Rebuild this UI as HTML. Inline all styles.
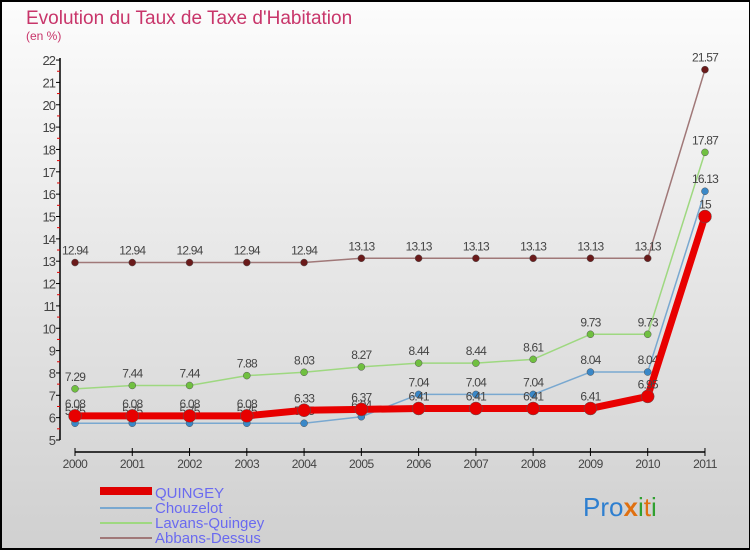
<!DOCTYPE html>
<html><head><meta charset="utf-8"><style>
body{margin:0;}
#c{position:relative;width:750px;height:550px;box-sizing:border-box;border:2px solid #000;border-right:1px solid #000;background:linear-gradient(#fcfcfc,#d0d0d0);font-family:"Liberation Sans",sans-serif;overflow:hidden;}
</style></head><body>
<div id="c">
<svg width="750" height="550" style="position:absolute;left:-2px;top:-2px" id="svg">
<text x="26" y="24" font-size="19" fill="#c8356a">Evolution du Taux de Taxe d'Habitation</text>
<text x="26" y="40" font-size="12" fill="#c8356a">(en %)</text>
<g id="axes"></g><g id="series"></g>
<g>
<rect x="100" y="487" width="52" height="8" fill="#e00000"/>
<text x="155" y="498" font-size="15" fill="#6a6af0">QUINGEY</text>
<rect x="100" y="507" width="52" height="2" fill="#79a8d0"/>
<text x="155" y="513" font-size="15" fill="#6a6af0">Chouzelot</text>
<rect x="100" y="522" width="52" height="2" fill="#9ed880"/>
<text x="155" y="528" font-size="15" fill="#6a6af0">Lavans-Quingey</text>
<rect x="100" y="537" width="52" height="2" fill="#a07878"/>
<text x="155" y="543" font-size="15" fill="#6a6af0">Abbans-Dessus</text>
</g>
<g font-size="26">
<text x="583" y="516"><tspan fill="#2e7fd0">Pro</tspan><tspan fill="#e07010" font-weight="bold">x</tspan><tspan fill="#30a030">i</tspan><tspan fill="#e07010">t</tspan><tspan fill="#30a030">i</tspan></text>
</g>
</svg>
</div>
<script>
const years=["2000","2001","2002","2003","2004","2005","2006","2007","2008","2009","2010","2011"];
const yTicks=[5,6,7,8,9,10,11,12,13,14,15,16,17,18,19,20,21,22];
const quingey=[6.08,6.08,6.08,6.08,6.33,6.37,6.41,6.41,6.41,6.41,6.95,15];
const chouzelot=[5.75,5.75,5.75,5.75,5.75,6.04,7.04,7.04,7.04,8.04,8.04,16.13];
const lavans=[7.29,7.44,7.44,7.88,8.03,8.27,8.44,8.44,8.61,9.73,9.73,17.87];
const abbans=[12.94,12.94,12.94,12.94,12.94,13.13,13.13,13.13,13.13,13.13,13.13,21.57];
const NS="http://www.w3.org/2000/svg";
const X=i=>75+i*57.27, Y=v=>440-(v-5)*22.35;
function mk(t,a,p){const e=document.createElementNS(NS,t);for(const k in a)e.setAttribute(k,a[k]);p.appendChild(e);return e;}
const ax=document.getElementById('axes');
let e=mk('line',{x1:60,y1:Y(22)-2,x2:60,y2:Y(5),stroke:'#000','stroke-width':1.5},ax);


yTicks.forEach(v=>{
 mk('line',{x1:56,x2:60,y1:Y(v),y2:Y(v),stroke:'#000'},ax);
 if(v<22)mk('line',{x1:57,x2:60,y1:Y(v+0.5),y2:Y(v+0.5),stroke:'#e00000'},ax);
 const t=mk('text',{x:55,y:Y(v)+5,'text-anchor':'end','font-size':13,fill:'#444','letter-spacing':'-1'},ax);
 t.textContent=v;
 
 
});
e=mk('line',{x1:X(0),y1:452,x2:X(11),y2:452,stroke:'#000','stroke-width':1.5},ax);


years.forEach((y,i)=>{
 mk('line',{x1:X(i),x2:X(i),y1:448,y2:456,stroke:'#000'},ax);
 const t=mk('text',{x:X(i),y:468,'text-anchor':'middle','font-size':12,fill:'#444','letter-spacing':'-0.5'},ax);
 t.textContent=y;
 
 
});
const sg=document.getElementById('series');
function series(name,data,color,dark,w,r){
 const g=mk('g',{},sg);
 
 
 mk('polyline',{points:data.map((v,i)=>X(i)+','+Y(v)).join(' '),fill:'none',stroke:color,'stroke-width':w,'stroke-linejoin':'round'},g);
 data.forEach((v,i)=>{
  const c=mk('circle',{cx:X(i),cy:Y(v),r:r,fill:dark,stroke:'#555','stroke-width':0.5},g);
  
  
  const t=mk('text',{x:X(i),y:Y(v)-8,'text-anchor':'middle','font-size':12,fill:'#444','letter-spacing':'-0.8'},g);
  t.textContent=v;
  
  
 });
}
series('abbans',abbans,'#a07878','#6a1a1a',1.5,3.5);
series('lavans',lavans,'#9ed880','#70c040',1.5,3.5);
series('chouzelot',chouzelot,'#79a8d0','#3a88c8',1.5,3.5);
series('quingey',quingey,'#e80000','#e80000',7,6.5);
</script>
</body></html>
